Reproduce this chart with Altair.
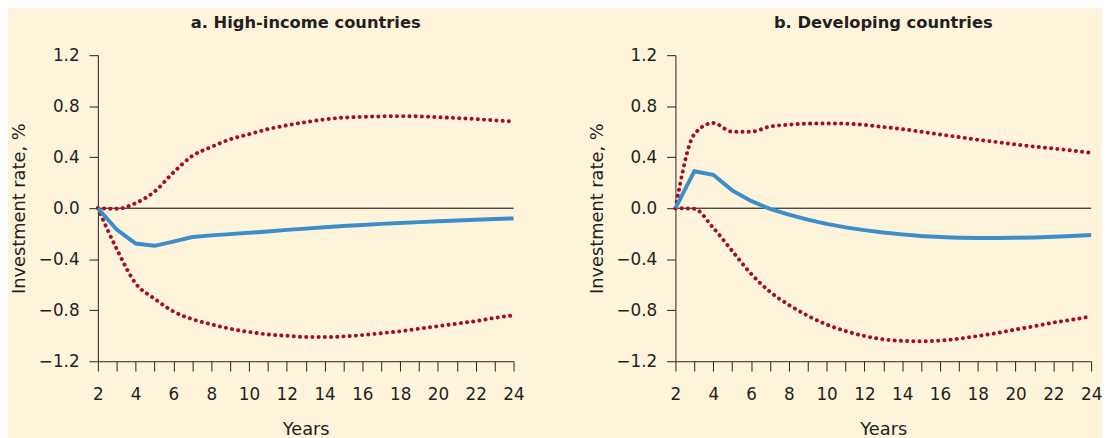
import altair as alt
import pandas as pd

years = list(range(2, 25))

# Panel a: High-income countries
hi_mean = [0.0, -0.167, -0.277, -0.295, -0.262, -0.226, -0.213, -0.203, -0.193, -0.182, -0.17, -0.16,
           -0.149, -0.14, -0.131, -0.123, -0.116, -0.109, -0.103, -0.096, -0.09, -0.085, -0.08]
hi_upper = [0.0, -0.005, 0.04, 0.13, 0.28, 0.41, 0.48, 0.54, 0.58, 0.62, 0.65, 0.675,
            0.696, 0.71, 0.717, 0.72, 0.722, 0.72, 0.714, 0.707, 0.699, 0.689, 0.68]
hi_lower = [0.0, -0.32, -0.59, -0.71, -0.81, -0.87, -0.91, -0.945, -0.97, -0.99, -1.0, -1.01,
            -1.01, -1.005, -0.995, -0.98, -0.965, -0.945, -0.925, -0.905, -0.885, -0.86, -0.84]

# Panel b: Developing countries
dev_mean = [0.0, 0.29, 0.262, 0.14, 0.057, -0.005, -0.05, -0.09, -0.123, -0.15, -0.172, -0.19,
            -0.205, -0.218, -0.226, -0.231, -0.234, -0.234, -0.231, -0.229, -0.224, -0.218, -0.21]
dev_upper = [0.0, 0.58, 0.668, 0.60, 0.60, 0.64, 0.655, 0.663, 0.665, 0.663, 0.653, 0.637,
             0.62, 0.60, 0.578, 0.558, 0.537, 0.519, 0.5, 0.483, 0.468, 0.452, 0.434]
dev_lower = [0.0, -0.005, -0.154, -0.334, -0.514, -0.655, -0.758, -0.843, -0.912, -0.963, -1.002, -1.028,
             -1.04, -1.043, -1.038, -1.023, -1.002, -0.979, -0.951, -0.925, -0.897, -0.874, -0.848]

y_ticks = [-1.2, -0.8, -0.4, 0.0, 0.4, 0.8, 1.2]

BLUE = "#3d8ccb"
RED = "#a30d2b"
TEXT = "#231f20"
BG = "#fef4dc"
FONT = "DejaVu Sans"


def make_panel(title, mean, upper, lower):
    n = len(years)
    df = pd.DataFrame({
        "year": years * 3,
        "value": mean + upper + lower,
        "series": ["mean"] * n + ["upper"] * n + ["lower"] * n,
    })
    x_enc = alt.X(
        "year:Q",
        scale=alt.Scale(domain=[2, 24], nice=False, zero=False),
        axis=alt.Axis(values=years, labelExpr="datum.value % 2 == 0 ? datum.label : ''",
                      title="Years", tickSize=10, labelPadding=16, titlePadding=18,
                      labelFlush=False, labelOverlap=False),
    )
    y_enc = alt.Y(
        "value:Q",
        scale=alt.Scale(domain=[-1.2, 1.2], nice=False, zero=False),
        axis=alt.Axis(values=y_ticks, format=".1f", title="Investment rate, %",
                      tickSize=9, labelPadding=10, titlePadding=10,
                      labelFlush=False, labelOverlap=False),
    )
    zero = alt.Chart(pd.DataFrame({"value": [0.0]})).mark_rule(
        color="black", strokeWidth=1
    ).encode(y=y_enc)
    bands = alt.Chart(df).transform_filter("datum.series != 'mean'").mark_line(
        color=RED, strokeWidth=4, strokeDash=[0.1, 6.2], strokeCap="round", interpolate="monotone"
    ).encode(x=x_enc, y=y_enc, detail="series:N")
    mean_line = alt.Chart(df).transform_filter("datum.series == 'mean'").mark_line(
        color=BLUE, strokeWidth=4
    ).encode(x=x_enc, y=y_enc)
    return alt.layer(zero, bands, mean_line).properties(
        width=421, height=310, title=alt.TitleParams(title, offset=15)
    )


left = make_panel("a. High-income countries", hi_mean, hi_upper, hi_lower)
right = make_panel("b. Developing countries", dev_mean, dev_upper, dev_lower)

chart = alt.hconcat(left, right, spacing=64).properties(
    padding={"left": 2, "top": 4, "right": 0, "bottom": 0},
    background=BG,
).configure_axis(
    domainColor="#222222", tickColor="#222222", labelColor=TEXT, titleColor=TEXT,
    grid=False, labelFont=FONT, titleFont=FONT, labelFontSize=17, titleFontSize=18,
    titleFontWeight="normal", domainWidth=1, tickWidth=1,
).configure_view(stroke=None).configure_title(
    font=FONT, fontSize=16.5, fontWeight="bold", color=TEXT, anchor="middle"
)

chart.save("out.html", embed_options={"renderer": "svg", "actions": False})
